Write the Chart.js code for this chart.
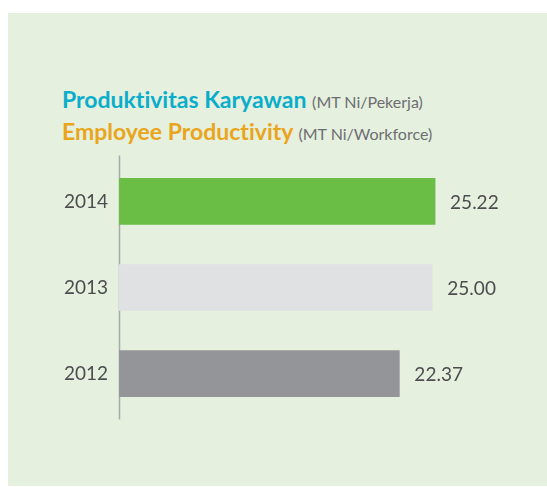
<!DOCTYPE html>
<html>
<head>
<meta charset="utf-8">
<script src="https://cdn.jsdelivr.net/npm/chart.js@4.4.1/dist/chart.umd.min.js"></script>
<style>
  body { margin: 0; background: #fff; width: 547px; height: 487px; position: relative; overflow: hidden; font-family: Lato, "Open Sans", sans-serif; }
  #panel { position: absolute; left: 8px; top: 13px; width: 539px; height: 473px; background: #e5f0df; }
  .title { position: absolute; left: 62px; white-space: nowrap; font-weight: bold; font-size: 23px; line-height: 30px; font-variant-ligatures: none; }
  .title span { font-weight: normal; font-size: 16px; color: #6d6e71; }
  #t1 { top: 84px; color: #0aadca; }
  #t2 { top: 116px; color: #e9a51b; }
  #chart-container { position: absolute; left: 0; top: 136px; width: 547px; height: 303px; }
</style>
</head>
<body>
<div id="panel"></div>
<div class="title" id="t1">Produktivitas Karyawan <span>(MT Ni/Pekerja)</span></div>
<div class="title" id="t2">Employee Productivity <span>(MT Ni/Workforce)</span></div>
<div id="chart-container"><canvas id="prodChart" width="547" height="303"></canvas></div>
<script>
const years = ["2014", "2013", "2012"];
const productivity = [25.22, 25.00, 22.37];
const barColors = ["#6abd45", "#e0e1e3", "#939598"];

// value labels at the end of each bar + the vertical axis line
const valueLabels = {
  id: "valueLabels",
  beforeDatasetsDraw(chart) {
    const { ctx, chartArea } = chart;
    ctx.save();
    ctx.strokeStyle = "#a7a9ac";
    ctx.lineWidth = 1.5;
    ctx.beginPath();
    ctx.moveTo(chartArea.left + 0.5, chartArea.top - 3);
    ctx.lineTo(chartArea.left + 0.5, chartArea.bottom + 3);
    ctx.stroke();
    ctx.restore();
  },
  afterDatasetsDraw(chart) {
    const ctx = chart.ctx;
    const meta = chart.getDatasetMeta(0);
    ctx.save();
    ctx.font = "19px Lato, 'Open Sans', sans-serif";
    ctx.fillStyle = "#4d4d4f";
    ctx.textBaseline = "middle";
    meta.data.forEach((bar, i) => {
      ctx.fillText(productivity[i].toFixed(2), bar.x + 15, bar.y + 1);
    });
    ctx.restore();
  }
};

const ctx = document.getElementById("prodChart").getContext("2d");
const chart = new Chart(ctx, {
  type: "bar",
  data: {
    labels: years,
    datasets: [{
      data: productivity,
      backgroundColor: barColors,
      barThickness: 46
    }]
  },
  options: {
    indexAxis: "y",
    responsive: false,
    animation: false,
    layout: { padding: { top: 0, bottom: 0, right: 52, left: 0 } },
    plugins: {
      legend: { display: false },
      tooltip: { enabled: false }
    },
    scales: {
      x: {
        display: false,
        min: 0,
        max: 30
      },
      y: {
        afterFit(scale) { scale.width = 119; },
        grid: { display: false, drawTicks: false },
        border: { display: false },
        ticks: {
          padding: 11,
          color: "#4d4d4f",
          font: { family: "Lato, 'Open Sans', sans-serif", size: 19 }
        }
      }
    }
  },
  plugins: [valueLabels]
});
</script>
</body>
</html>
